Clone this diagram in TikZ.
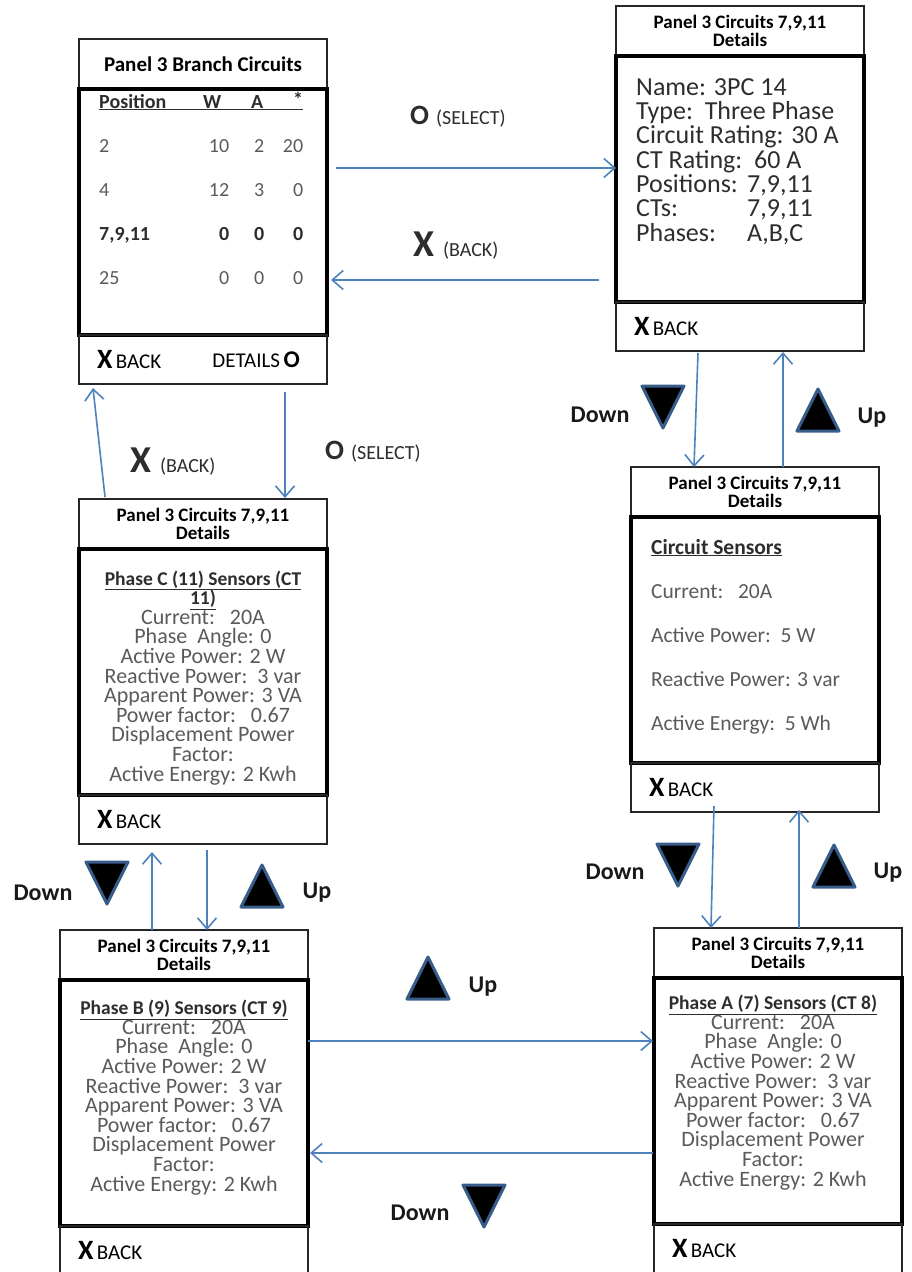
\documentclass[tikz,border=0pt]{standalone}
\usepackage{fontspec}
\setmainfont{Carlito}
\usetikzlibrary{positioning,arrows.meta}
\definecolor{linkblue}{RGB}{79,129,189}
\definecolor{tridark}{RGB}{56,93,138}
\definecolor{bodygray}{RGB}{90,90,90}
\definecolor{deepgray}{RGB}{45,45,45}
\newcommand{\bigX}{{\bfseries\fontsize{38}{38}\selectfont X}}
\newcommand{\footX}{{\bfseries\fontsize{28}{28}\selectfont X}}
\newcommand{\bigO}{{\bfseries\fontsize{28}{28}\selectfont O}}
\newcommand{\footO}{{\bfseries\fontsize{24}{24}\selectfont O}}
\newcommand{\shead}[2][19.5]{{\bfseries\fontsize{#1}{19.6}\selectfont\color{deepgray}\underline{#2}}}
\newcommand{\trow}[4]{\makebox[100pt][l]{#1}\makebox[30pt][r]{#2}\makebox[35pt][r]{#3}\makebox[39pt][r]{#4}}
\newcommand{\panelscreen}[4]{%
  \node[titlebox, anchor=north west] (#1-t) at (#2,#3) {#4};
  \node[bodybox, below=0pt of #1-t] (#1-b) {};
  \node[footbox, below=0pt of #1-b] (#1-f) {\footX\,BACK};
}
\tikzset{
  titlebox/.style={draw=black!85, line width=1.3pt, minimum width=248pt, minimum height=50pt,
    inner sep=0pt, outer sep=0pt, align=center, font=\bfseries\fontsize{19}{18}\selectfont},
  bodybox/.style={draw, line width=3.5pt, minimum width=248pt, minimum height=246pt,
    inner sep=0pt, outer sep=0pt},
  footbox/.style={draw=black!85, line width=1.3pt, minimum width=248pt, minimum height=49pt,
    inner xsep=18pt, inner ysep=0pt, outer sep=0pt, text width=212pt, align=left,
    font=\fontsize{21}{21}\selectfont},
  link/.style={draw=linkblue, line width=1.6pt, -{Straight Barb[length=11pt, width=19pt]}},
  keylab/.style={inner sep=0pt, anchor=base west, text=deepgray, font=\fontsize{20}{20}\selectfont},
  dirlab/.style={inner sep=0pt, text=black!90, font=\bfseries\fontsize{24}{24}\selectfont},
  tri/.style={draw=tridark, fill=black, line width=3pt, line join=round},
  downtri/.pic={\draw[tri] (-21,-21) -- (21,-21) -- (0,21) -- cycle;},
  uptri/.pic={\draw[tri] (-21,21) -- (21,21) -- (0,-21) -- cycle;},
  sensortext/.style={anchor=base, inner sep=0pt, align=center, text=bodygray,
    font=\fontsize{22}{19.6}\selectfont}
}
\begin{document}
\begin{tikzpicture}[x=1pt, y=-1pt]
\useasboundingbox (0,0) rectangle (911,1272);

\panelscreen{A}{79}{39}{\fontsize{21}{21}\selectfont Panel 3 Branch Circuits}
\panelscreen{B}{616}{6}{Panel 3 Circuits 7,9,11\\Details}
\panelscreen{C}{79}{499}{Panel 3 Circuits 7,9,11\\Details}
\panelscreen{D}{631}{467}{Panel 3 Circuits 7,9,11\\Details}
\panelscreen{E}{60}{930}{Panel 3 Circuits 7,9,11\\Details}
\panelscreen{F}{654}{928}{Panel 3 Circuits 7,9,11\\Details}

\node[anchor=base west, inner sep=0pt, align=left, font=\fontsize{20}{44}\selectfont] (A-tab) at (99,284) {%
  {\bfseries\color{deepgray}\underline{\makebox[100pt][l]{Position}\makebox[26pt][c]{W}\makebox[64pt][c]{A}\makebox[14pt][r]{\raisebox{2pt}{*}}}}\\
  {\color{bodygray}\trow{2}{10}{2}{20}}\\
  {\color{bodygray}\trow{4}{12}{3}{0}}\\
  {\bfseries\color{deepgray}\trow{7,9,11}{0}{0}{0}}\\
  {\color{bodygray}\trow{25}{0}{0}{0}}};
\node[anchor=east, inner sep=0pt, font=\fontsize{21}{21}\selectfont] (A-det) at ([xshift=-27pt]A-f.east) {DETAILS\,\footO};

\node[anchor=base west, inner sep=0pt, align=left, text=deepgray, font=\fontsize{26}{24.3}\selectfont] (B-txt) at (636,241) {Name: 3PC 14\\Type:\ \ Three Phase\\Circuit Rating: 30 A\\CT Rating:\ \ 60 A\\\makebox[111pt][l]{Positions:}7,9,11\\\makebox[111pt][l]{CTs:}7,9,11\\\makebox[111pt][l]{Phases:}A,B,C};

\node[sensortext] (C-txt) at ([shift={(0,232)}]C-b.north) {\shead{Phase C (11) Sensors (CT}\\\shead{11)}\\Current:\ \ \ 20A\\Phase\ \ Angle: 0\\Active Power: 2 W\\Reactive Power:\ \ 3 var\\Apparent Power: 3 VA\\Power factor:\ \ \ 0.67\\Displacement Power\\Factor:\\Active Energy: 2 Kwh};

\node[anchor=base west, inner sep=0pt, align=left, text=bodygray, font=\fontsize{21.5}{44}\selectfont] (D-txt) at ([shift={(20,213)}]D-b.north west) {\shead[21.5]{Circuit Sensors}\\Current:\ \ \ 20A\\Active Power:\ \ 5 W\\Reactive Power: 3 var\\Active Energy:\ \ 5 Wh};

\node[sensortext] (E-txt) at ([shift={(0,211)}]E-b.north) {\shead{Phase B (9) Sensors (CT 9)}\\Current:\ \ \ 20A\\Phase\ \ Angle: 0\\Active Power: 2 W\\Reactive Power:\ \ 3 var\\Apparent Power: 3 VA\\Power factor:\ \ \ 0.67\\Displacement Power\\Factor:\\Active Energy: 2 Kwh};

\node[sensortext] (F-txt) at ([shift={(-5,208)}]F-b.north) {\shead{Phase A (7) Sensors (CT 8)}\\Current:\ \ \ 20A\\Phase\ \ Angle: 0\\Active Power: 2 W\\Reactive Power:\ \ 3 var\\Apparent Power: 3 VA\\Power factor:\ \ \ 0.67\\Displacement Power\\Factor:\\Active Energy: 2 Kwh};

\node[keylab] (sel1-lab) at (410,124) {\bigO\hspace{7pt}(SELECT)};
\node[keylab] (back1-lab) at (413,256) {\bigX\hspace{9pt}(BACK)};
\node[keylab] (back2-lab) at (130,472) {\bigX\hspace{9pt}(BACK)};
\node[keylab] (sel2-lab) at (325,459) {\bigO\hspace{7pt}(SELECT)};

\node[dirlab] (bd-down) at (600,415) {Down};
\pic (bd-dtri) at (663,407) {downtri};
\pic (bd-utri) at (818,410) {uptri};
\node[dirlab] (bd-up) at (872,418) {Up};
\node[dirlab] (df-down) at (615,872) {Down};
\pic (df-dtri) at (678,865) {downtri};
\pic (df-utri) at (834,866) {uptri};
\node[dirlab] (df-up) at (888,873) {Up};
\node[dirlab] (ce-down) at (43,893) {Down};
\pic (ce-dtri) at (107,883) {downtri};
\pic (ce-utri) at (262,886) {uptri};
\node[dirlab] (ce-up) at (317,893) {Up};
\pic (ef-utri) at (428,978) {uptri};
\node[dirlab] (ef-up) at (483,987) {Up};
\pic (ef-dtri) at (484,1206) {downtri};
\node[dirlab] (ef-down) at (420,1213) {Down};

\draw[link] ([shift={(9,-44)}]A-b.east) -- ([shift={(0,-11)}]B-b.west);
\draw[link] ([shift={(-17,101)}]B-b.west) -- ([shift={(4,68)}]A-b.east);
\draw[link] ([shift={(82,8)}]A-f.south) -- ([shift={(82,-1)}]C-t.north);
\draw[link] ([shift={(-98,-2)}]C-t.north) -- ([shift={(-110,4)}]A-f.south);
\draw[link] ([shift={(-42,2)}]B-f.south) -- ([shift={(-61,0)}]D-t.north);
\draw[link] ([shift={(28,0)}]D-t.north) -- ([shift={(43,1)}]B-f.south);
\draw[link] ([shift={(-41,-6)}]D-f.south) -- ([shift={(-67,0)}]F-t.north);
\draw[link] ([shift={(21,0)}]F-t.north) -- ([shift={(44,-2)}]D-f.south);
\draw[link] ([shift={(4,6)}]C-f.south) -- ([shift={(23,0)}]E-t.north);
\draw[link] ([shift={(-32,0)}]E-t.north) -- ([shift={(-51,8)}]C-f.south);
\draw[link] ([shift={(0,-62)}]E-b.east) -- ([shift={(-1,-60)}]F-b.west);
\draw[link] ([shift={(-1,52)}]F-b.west) -- ([shift={(2,50)}]E-b.east);
\end{tikzpicture}
\end{document}
